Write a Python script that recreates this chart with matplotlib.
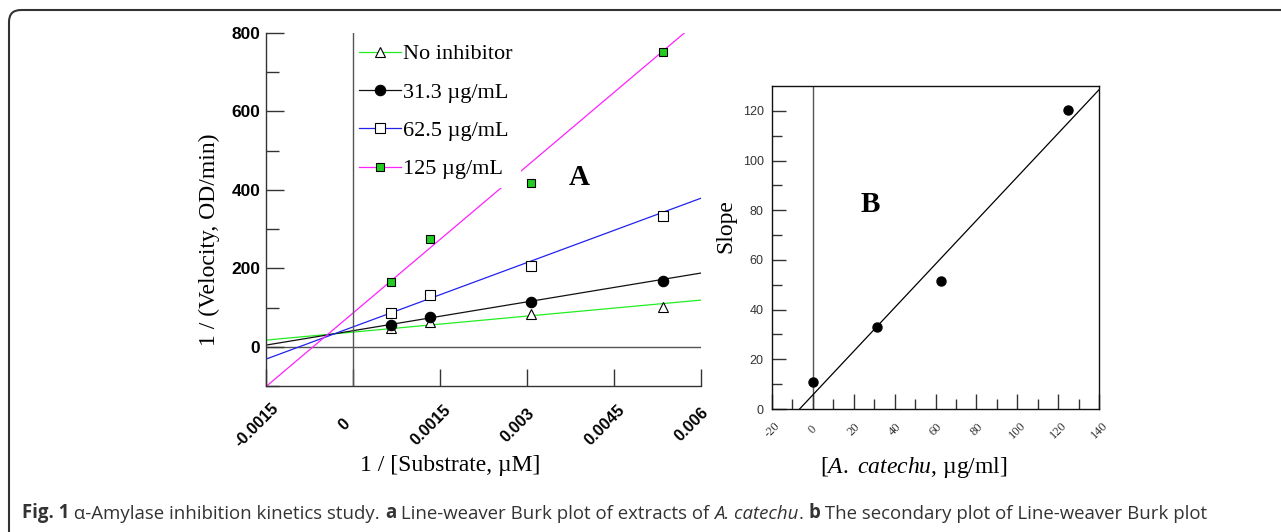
import matplotlib
matplotlib.use("Agg")
import matplotlib.pyplot as plt
import numpy as np
from matplotlib.lines import Line2D
from matplotlib.patches import FancyBboxPatch
from matplotlib.transforms import IdentityTransform, ScaledTranslation

plt.rcParams['mathtext.fontset'] = 'custom'
plt.rcParams['mathtext.rm'] = 'Liberation Serif'
plt.rcParams['mathtext.it'] = 'Liberation Serif:italic'
plt.rcParams['mathtext.bf'] = 'Liberation Serif:bold'
plt.rcParams['axes.unicode_minus'] = False

# ---------------- data ----------------
inv_substrate = [0.00066, 0.00133, 0.00307, 0.00534]
series_labels = ["No inhibitor", "31.3 \u00b5g/mL", "62.5 \u00b5g/mL", "125 \u00b5g/mL"]
no_inhibitor = [48, 62, 84, 102]
conc_31 = [56, 77, 115, 167]
conc_62 = [87, 133, 205, 334]
conc_125 = [166, 275, 418, 752]
fit_intercepts = [37.4, 41.0, 50.6, 86.0]
fit_slopes = [13600, 24500, 54700, 125000]
a_xticks = [-0.0015, 0, 0.0015, 0.003, 0.0045, 0.006]
a_xticklabels = ["-0.0015", "0", "0.0015", "0.003", "0.0045", "0.006"]
a_yticks = [0, 200, 400, 600, 800]

catechu_conc = [0, 31.3, 62.5, 125]
secondary_slope = [11, 33, 51.5, 120.5]
sec_fit_intercept = 5.7
sec_fit_slope = 0.877
b_xticks = [-20, 0, 20, 40, 60, 80, 100, 120, 140]
b_yticks = [0, 20, 40, 60, 80, 100, 120]

caption_parts = [("Fig. 1", "bold", "normal"),
                 (" \u03b1-Amylase inhibition kinetics study. ", "normal", "normal"),
                 ("a", "bold", "normal"),
                 (" Line-weaver Burk plot of extracts of ", "normal", "normal"),
                 ("A. catechu", "normal", "italic"),
                 (". ", "normal", "normal"),
                 ("b", "bold", "normal"),
                 (" The secondary plot of Line-weaver Burk plot", "normal", "normal")]

W, H = 1281, 532
fig = plt.figure(figsize=(W / 100, H / 100), dpi=100)

def fr(x0, y0, x1, y1):
    return [x0 / W, 1 - y1 / H, (x1 - x0) / W, (y1 - y0) / H]

serif = 'Liberation Serif'
sans = 'Liberation Sans'

# ---------------- panel A ----------------
ax = fig.add_axes(fr(266, 33, 701, 386))
ax.set_xlim(-0.0015, 0.006)
ax.set_ylim(-100, 800)
for s in ['top', 'right']:
    ax.spines[s].set_visible(False)
for s in ['left', 'bottom']:
    ax.spines[s].set_color('#333333')
    ax.spines[s].set_linewidth(1.0)

ax.axhline(0, color='#555555', lw=1.0, zorder=1)
ax.axvline(0, color='#555555', lw=1.0, zorder=6)

colors = ['#22ee22', '#111111', '#2222ee', '#ff22ff']
markers = ['^', 'o', 's', 's']
mfc = ['white', 'black', 'white', '#22cc22']
msz = [7.5, 7.5, 7.5, 5.5]
series = [no_inhibitor, conc_31, conc_62, conc_125]
xx = np.array(ax.get_xlim())
handles = []
for i in range(4):
    ax.plot(xx, fit_intercepts[i] + fit_slopes[i] * xx, color=colors[i], lw=0.9, zorder=2)
    ax.plot(inv_substrate, series[i], linestyle='none', marker=markers[i],
            mfc=mfc[i], mec='black', mew=0.8, ms=msz[i], zorder=3)
    handles.append(Line2D([], [], color=colors[i], lw=0.9, marker=markers[i],
                          mfc=mfc[i], mec='black', mew=0.8, ms=msz[i]))

leg = ax.legend(handles, series_labels, loc='upper left',
                bbox_to_anchor=(0.1938, 0.9946), borderpad=0.4, borderaxespad=0,
                handlelength=1.9, handletextpad=0.05, labelspacing=0.8,
                prop={'family': serif, 'size': 16}, frameon=True,
                fancybox=False, numpoints=1)
leg.get_frame().set_facecolor('white')
leg.get_frame().set_edgecolor('none')
leg.get_frame().set_alpha(1)

ax.set_yticks(a_yticks)
ax.set_yticks([-100, 100, 300, 500, 700], minor=True)
ax.set_xticks(a_xticks)
ax.set_xticklabels(a_xticklabels)
ax.tick_params(axis='y', which='major', direction='in', length=13, width=1,
               color='#333333', pad=4)
ax.tick_params(axis='y', which='minor', direction='in', length=9, width=1,
               color='#333333')
ax.tick_params(axis='x', which='major', direction='in', length=12, width=1,
               color='#333333', pad=28, labelrotation=45)
for lab in ax.get_yticklabels():
    lab.set_fontfamily(sans)
    lab.set_fontweight('bold')
    lab.set_fontsize(12.5)
off = ScaledTranslation(-9 / 100, 0, fig.dpi_scale_trans)
for lab in ax.get_xticklabels():
    lab.set_fontfamily(sans)
    lab.set_fontweight('bold')
    lab.set_fontsize(11.8)
    lab.set_ha('center')
    lab.set_va('center')
    lab.set_transform(lab.get_transform() + off)

ax.set_ylabel("1 / (Velocity, OD/min)", family=serif, fontsize=17)
ax.yaxis.set_label_coords(-0.131, 0.414)
ax.set_xlabel("1 / [Substrate, \u00b5M]", family=serif, fontsize=17)
ax.xaxis.set_label_coords((450 - 266) / 435, -(466 - 386) / 353)
ax.xaxis.label.set_va('center')
ax.yaxis.label.set_va('center')

ax.text(0.0039, 432, "A", family=serif, fontsize=21, fontweight='bold',
        ha='center', va='center')

# ---------------- panel B ----------------
bx = fig.add_axes(fr(772, 86, 1099, 409))
bx.set_xlim(-20, 140)
bx.set_ylim(0, 130)
for s in bx.spines.values():
    s.set_color('#111111')
    s.set_linewidth(1.0)
bx.axvline(0, color='#555555', lw=1.0, zorder=1)
bxx = np.array(bx.get_xlim())
bx.plot(bxx, sec_fit_intercept + sec_fit_slope * bxx, color='black', lw=0.9, zorder=2)
bx.plot(catechu_conc, secondary_slope, linestyle='none', marker='o',
        mfc='black', mec='black', ms=6.5, zorder=3)
bx.set_xticks(b_xticks)
bx.set_xticks([-10, 10, 30, 50, 70, 90, 110, 130], minor=True)
bx.set_yticks(b_yticks)
bx.set_yticks([10, 30, 50, 70, 90, 110], minor=True)
bx.tick_params(axis='y', which='major', direction='in', length=10, width=1,
               color='#333333', pad=6, labelsize=9, labelcolor='#333333')
bx.tick_params(axis='y', which='minor', direction='in', length=7, width=1,
               color='#333333')
bx.tick_params(axis='x', which='major', direction='in', length=11, width=1,
               color='#333333', pad=15, labelrotation=45, labelsize=9,
               labelcolor='#333333')
bx.tick_params(axis='x', which='minor', direction='in', length=7, width=1,
               color='#333333')
for lab in bx.get_yticklabels():
    lab.set_fontfamily(sans)
for lab in bx.get_xticklabels():
    lab.set_fontfamily(serif)
    lab.set_ha('center')
    lab.set_va('center')
bx.set_ylabel("Slope", family=serif, fontsize=17)
bx.yaxis.set_label_coords((726 - 772) / 327, 1 - (226 - 86) / 323)
bx.yaxis.label.set_va('center')
bx.set_xlabel("$\\mathit{[A.\\ catechu}$, \u00b5g/ml]", family=serif, fontsize=17)
bx.xaxis.set_label_coords((914 - 772) / 327, -(467 - 409) / 323)
bx.xaxis.label.set_va('center')
bx.text(28, 82.5, "B", family=serif, fontsize=21, fontweight='bold',
        ha='center', va='center')

# ---------------- border & caption ----------------
border = FancyBboxPatch((9, -30), 1300, H - 10 + 30,
                        boxstyle="round,pad=0,rounding_size=12",
                        transform=IdentityTransform(), facecolor='none',
                        edgecolor='#333333', lw=1.5)
fig.patches.append(border)

cap_ax = fig.add_axes([0, 0, 1, 1], zorder=-1)
cap_ax.axis('off')
cap_size = 13.4
prev = cap_ax.text(22 / W, 1 - 523 / H, caption_parts[0][0], family='Open Sans',
                   fontsize=cap_size, fontweight=caption_parts[0][1],
                   style=caption_parts[0][2], color='#333333',
                   va='bottom', ha='left', transform=cap_ax.transAxes)
for txt, wt, st in caption_parts[1:]:
    prev = cap_ax.annotate(txt, xy=(1, 0), xycoords=prev, va='bottom', ha='left',
                           family='Open Sans', fontsize=cap_size, fontweight=wt,
                           style=st, color='#333333')

fig.savefig("out.png", dpi=100)
